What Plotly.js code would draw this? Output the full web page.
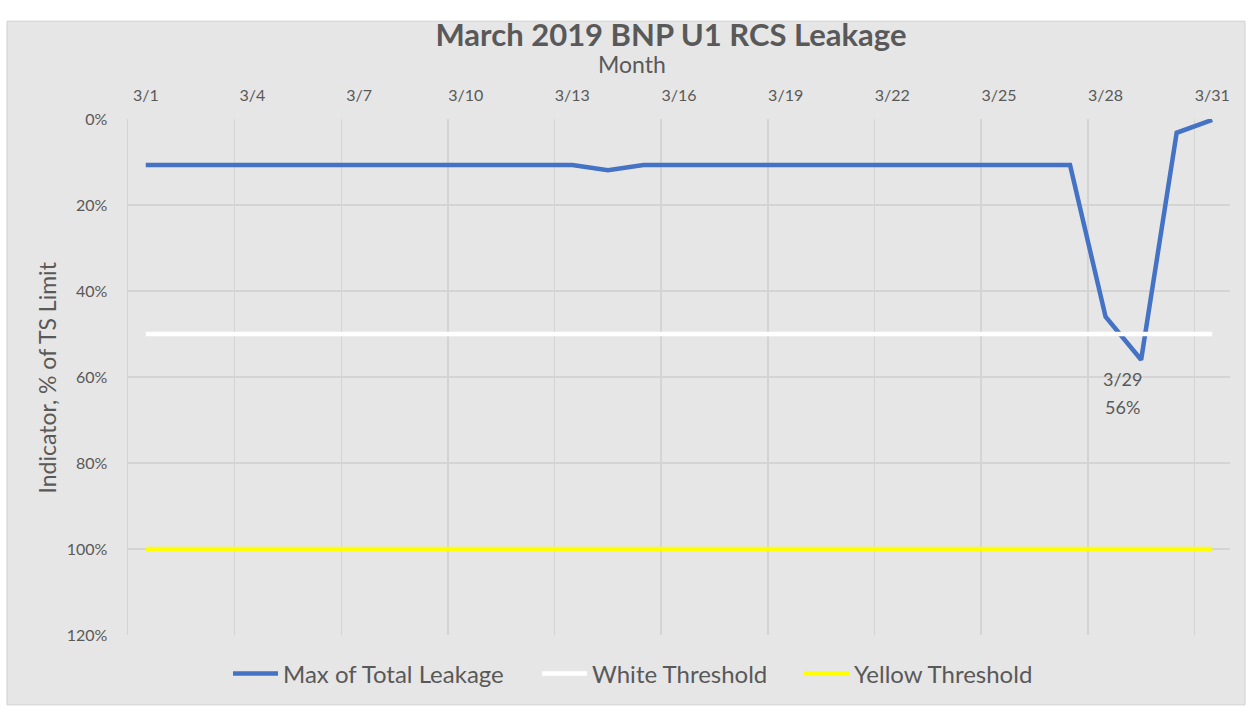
<!DOCTYPE html>
<html>
<head>
<meta charset="utf-8">
<script src="https://cdn.plot.ly/plotly-3.0.1.min.js"></script>
<style>html,body{margin:0;padding:0;background:#fff;}#chart{width:1252px;height:707px;}</style>
</head>
<body>
<div id="chart"></div>
<script>
const days = ["3/1","3/2","3/3","3/4","3/5","3/6","3/7","3/8","3/9","3/10","3/11","3/12","3/13","3/14","3/15","3/16","3/17","3/18","3/19","3/20","3/21","3/22","3/23","3/24","3/25","3/26","3/27","3/28","3/29","3/30","3/31"];
const maxLeakage = [0.107,0.107,0.107,0.107,0.107,0.107,0.107,0.107,0.107,0.107,0.107,0.107,0.107,0.119,0.107,0.107,0.107,0.107,0.107,0.107,0.107,0.107,0.107,0.107,0.107,0.107,0.107,0.46,0.56,0.032,0.002];
const whiteThreshold = days.map(() => 0.5);
const yellowThreshold = days.map(() => 1.0);
const labelDay = "3/29";
const yTicks = [0,0.2,0.4,0.6,0.8,1.0,1.2];

const gray = "#595959";
const fontFam = "Lato, 'Open Sans', sans-serif";

const traces = [
  {x: days, y: maxLeakage, name: "Max of Total Leakage", type: "scatter", mode: "lines",
   line: {color: "#4472C4", width: 4.5}, legend: "legend"},
  {x: days, y: whiteThreshold, name: "White Threshold", type: "scatter", mode: "lines",
   line: {color: "#FFFFFF", width: 4.5}, legend: "legend2"},
  {x: days, y: yellowThreshold, name: "Yellow Threshold", type: "scatter", mode: "lines",
   line: {color: "#FFFF00", width: 4.5}, legend: "legend3"}
];

const L = 128, R = 1230, T = 119, B = 636, W = 1252, H = 707;
const px = v => (v - L) / (R - L);
const py = v => (B - v) / (B - T);

const li = days.indexOf(labelDay);
const labelVal = maxLeakage[li];

const legendBase = {orientation: "h", xanchor: "left", y: py(674), yanchor: "middle", itemwidth: 45,
  font: {family: fontFam, size: 24, color: gray}, bgcolor: "rgba(0,0,0,0)", borderwidth: 0};

const layout = {
  width: W, height: H,
  margin: {l: L, r: W - R, t: T, b: H - B},
  paper_bgcolor: "#FFFFFF",
  plot_bgcolor: "rgba(0,0,0,0)",
  font: {family: fontFam, color: gray},
  showlegend: true,
  title: {text: "<b>March 2019 BNP U1 RCS Leakage</b>", font: {family: fontFam, size: 31, color: gray},
          x: 671 / W, xanchor: "center", y: 1 - 35 / H, yanchor: "middle"},
  xaxis: {type: "category", side: "top", tickmode: "linear", tick0: 0, dtick: 3,
          range: [-0.5, days.length - 0.5], tickangle: 0,
          tickson: "boundaries", showgrid: true, gridcolor: "#D4D4D4", gridwidth: 1.5,
          ticks: "", showline: false, zeroline: false, ticklabelstandoff: 14,
          tickfont: {family: fontFam, size: 16, color: gray}, fixedrange: true},
  yaxis: {range: [1.2, 0], tickvals: yTicks, tickformat: ".0%", showgrid: true,
          gridcolor: "#D4D4D4", gridwidth: 1.5, zeroline: false, ticks: "",
          showline: true, linecolor: "#D4D4D4", linewidth: 1.5,
          tickfont: {family: fontFam, size: 16, color: gray}, ticklabelstandoff: 16},
  legend: Object.assign({}, legendBase, {x: px(228)}),
  legend2: Object.assign({}, legendBase, {x: px(537)}),
  legend3: Object.assign({}, legendBase, {x: px(799)}),
  shapes: [
    {type: "rect", xref: "paper", yref: "paper", layer: "below",
     x0: px(7), x1: px(1245), y0: py(706), y1: py(21),
     fillcolor: "#E6E6E6", line: {color: "#D0D0D0", width: 1}}
  ],
  annotations: [
    {text: "Month", xref: "paper", yref: "paper", x: px(632), y: py(64), showarrow: false,
     xanchor: "center", yanchor: "middle", font: {family: fontFam, size: 23, color: gray}},
    {text: "Indicator, % of TS Limit", xref: "paper", yref: "paper", x: px(47), y: py(378),
     showarrow: false, textangle: -90, xanchor: "center", yanchor: "middle",
     font: {family: fontFam, size: 23, color: gray}},
    {text: labelDay, x: labelDay, y: labelVal, xref: "x", yref: "y", showarrow: false,
     xanchor: "center", yanchor: "middle", xshift: -19, yshift: -19,
     font: {family: fontFam, size: 18, color: gray}},
    {text: Math.round(labelVal * 100) + "%", x: labelDay, y: labelVal, xref: "x", yref: "y", showarrow: false,
     xanchor: "center", yanchor: "middle", xshift: -19, yshift: -47,
     font: {family: fontFam, size: 18, color: gray}}
  ]
};

Plotly.newPlot("chart", traces, layout, {displayModeBar: false, staticPlot: true});
</script>
</body>
</html>
